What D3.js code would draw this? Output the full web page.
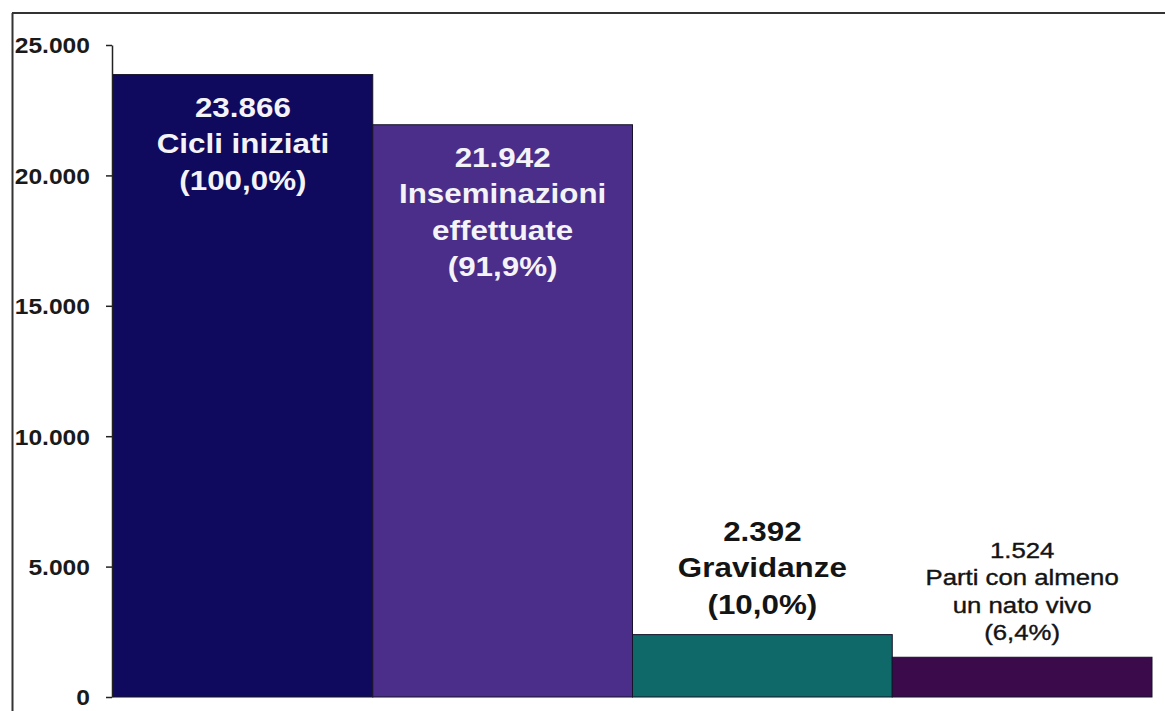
<!DOCTYPE html>
<html>
<head>
<meta charset="utf-8">
<script src="https://cdn.jsdelivr.net/npm/d3@7"></script>
<style>
  html, body { margin: 0; padding: 0; background: #fff; }
  svg { display: block; font-family: "Liberation Sans", Arial, sans-serif; }
</style>
</head>
<body>
<svg id="chart" width="1165" height="711"></svg>
<script>
// Percorso dei cicli: conteggi per fase
const categories = ["Cicli iniziati", "Inseminazioni effettuate", "Gravidanze", "Parti con almeno un nato vivo"];
const categoryLines = [["Cicli iniziati"], ["Inseminazioni", "effettuate"], ["Gravidanze"], ["Parti con almeno", "un nato vivo"]];
const values = [23866, 21942, 2392, 1524];
const barColors = ["#0f0a5e", "#4a2e8a", "#0f6968", "#3a0a4b"];
const tickValues = [0, 5000, 10000, 15000, 20000, 25000];

const it = d3.formatLocale({ decimal: ",", thousands: ".", grouping: [3], currency: ["€", ""] });
const fmtInt = it.format(",");
const fmtPct = it.format(".1f");

const W = 1165, H = 711;
const stretch = 1.12;           // slightly wide lettering
const svg = d3.select("#chart");

// outer frame (top and left edges)
svg.append("line").attr("x1", 12).attr("y1", 13).attr("x2", W).attr("y2", 13)
  .attr("stroke", "#333").attr("stroke-width", 2);
svg.append("line").attr("x1", 12.5).attr("y1", 13).attr("x2", 12.5).attr("y2", H)
  .attr("stroke", "#333").attr("stroke-width", 2);

const plot = { left: 112, right: 1152, top: 45, bottom: 697 };

const x = d3.scaleBand().domain(categories).range([plot.left + 1, plot.right]).padding(0);
const y = d3.scaleLinear().domain([0, 25000]).range([plot.bottom, plot.top]);

// bars
svg.append("g").selectAll("rect").data(values).join("rect")
  .attr("x", (d, i) => x(categories[i]))
  .attr("y", d => y(d))
  .attr("width", x.bandwidth())
  .attr("height", d => y(0) - y(d))
  .attr("fill", (d, i) => barColors[i])
  .attr("stroke", "#15122a")
  .attr("stroke-width", 1);

// y axis
const yAxis = d3.axisLeft(y).tickValues(tickValues).tickFormat(fmtInt).tickSize(6).tickSizeOuter(0);
const gy = svg.append("g").attr("transform", `translate(${plot.left},0)`).call(yAxis);
gy.select(".domain").attr("stroke", "#222").attr("stroke-width", 1.5);
gy.selectAll(".tick line").attr("stroke", "#222").attr("stroke-width", 1.5);
gy.selectAll(".tick text")
  .attr("x", -22 / stretch)
  .attr("dy", "0.36em")
  .attr("transform", `scale(${stretch},1)`)
  .attr("fill", "#1a1a1a")
  .attr("font-size", 22)
  .attr("font-weight", "bold")
  .attr("font-family", "'Liberation Sans', Arial, sans-serif");

// labels: value, phase name, share of started cycles
const total = values[0];
const labels = svg.append("g");
values.forEach((v, i) => {
  const lines = [fmtInt(v), ...categoryLines[i], "(" + fmtPct(v / total * 100) + "%)"];
  const cx = x(categories[i]) + x.bandwidth() / 2;
  const inside = i < 2;
  const small = i === 3;
  const fs = small ? 23 : 28;
  const lh = small ? 27.5 : 36.5;
  let firstBase;
  if (inside) firstBase = y(v) + 42;
  else firstBase = y(v) - (small ? 17 : 21) - lh * (lines.length - 1);
  lines.forEach((t, k) => {
    labels.append("text")
      .attr("transform", `translate(${cx},${firstBase + k * lh}) scale(${stretch},1)`)
      .attr("text-anchor", "middle")
      .attr("font-size", fs)
      .attr("font-weight", small ? "normal" : "bold")
      .attr("fill", inside ? "#f4f4f8" : "#141414")
      .attr("stroke", small ? "#141414" : "none")
      .attr("stroke-width", small ? 0.4 : 0)
      .text(t);
  });
});
</script>
</body>
</html>
